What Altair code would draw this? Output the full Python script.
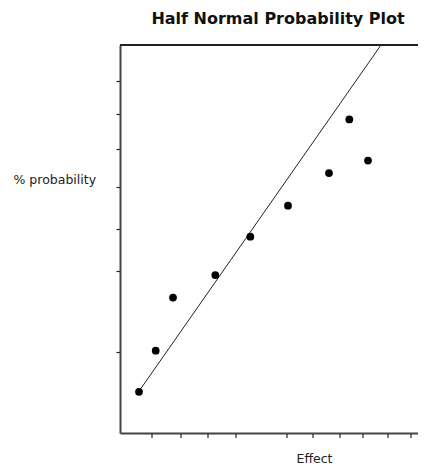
import altair as alt
import pandas as pd

# Data
effect = [1.9, 3.57, 5.3, 9.53, 13.03, 16.8, 20.9, 22.93, 24.8]
prob = [10.6, 21.2, 34.9, 40.7, 50.6, 58.6, 67.0, 80.8, 70.2]
line_effect = [2.1, 26.1]
line_prob = [11.5, 100.0]
x_ticks = [3.2, 6.1, 8.8, 11.6, 16.7, 19.3, 22.0, 24.3, 26.8, 29.1]
y_ticks = [21.0, 41.8, 52.7, 63.5, 73.1, 82.1, 90.8]

W, H = 298, 388

pts = pd.DataFrame({"Effect": effect, "prob": prob})
ln = pd.DataFrame({"Effect": line_effect, "prob": line_prob})
xt = pd.DataFrame({"Effect": x_ticks})

xscale = alt.Scale(domain=[0, 29.8], nice=False, zero=False)
yscale = alt.Scale(domain=[0, 100], nice=False, zero=False)

xaxis = alt.Axis(
    values=x_ticks, labels=False, ticks=False, grid=False,
    domainColor="#444", domainWidth=2,
    title="Effect",
    titleFont="DejaVu Sans", titleFontSize=12.5, titleFontWeight="normal",
    titleColor="#222", titleX=194, titleY=25, titleAlign="center",
    titleBaseline="middle",
)
yaxis = alt.Axis(
    values=y_ticks, labels=False, labelOverlap=False, grid=False, tickSize=4,
    tickWidth=1.2, tickColor="#222", domainColor="#444", domainWidth=2,
    title="% probability", titleAngle=0,
    titleFont="DejaVu Sans", titleFontSize=12.5, titleFontWeight="normal",
    titleColor="#222", titleX=-107, titleY=134, titleAlign="left",
    titleBaseline="middle",
)

points = alt.Chart(pts).mark_circle(size=60, color="black", opacity=1).encode(
    x=alt.X("Effect:Q", scale=xscale, axis=xaxis),
    y=alt.Y("prob:Q", scale=yscale, axis=yaxis),
)

line = alt.Chart(ln).mark_line(color="#222", strokeWidth=1).encode(
    x=alt.X("Effect:Q", scale=xscale),
    y=alt.Y("prob:Q", scale=yscale),
)

xticks = alt.Chart(xt).mark_rule(color="#222", strokeWidth=1.2).encode(
    x=alt.X("Effect:Q", scale=xscale),
    y=alt.value(H + 1), y2=alt.value(H + 5),
)

top = alt.Chart(pts).mark_rule(color="#222", strokeWidth=1.5).encode(
    x=alt.value(0), x2=alt.value(W), y=alt.value(0)
)

chart = alt.layer(top, line, xticks, points).properties(
    width=W, height=H,
    autosize=alt.AutoSizeParams(type="none"),
    padding={"left": 112, "top": 37, "right": 0, "bottom": 33},
    title=alt.TitleParams(
        "Half Normal Probability Plot", font="DejaVu Sans", fontSize=16,
        fontWeight="bold", color="#111", anchor="middle", offset=16, dx=9,
    ),
).configure_view(stroke=None)

chart.save("out.html", embed_options={"renderer": "svg", "actions": False})
